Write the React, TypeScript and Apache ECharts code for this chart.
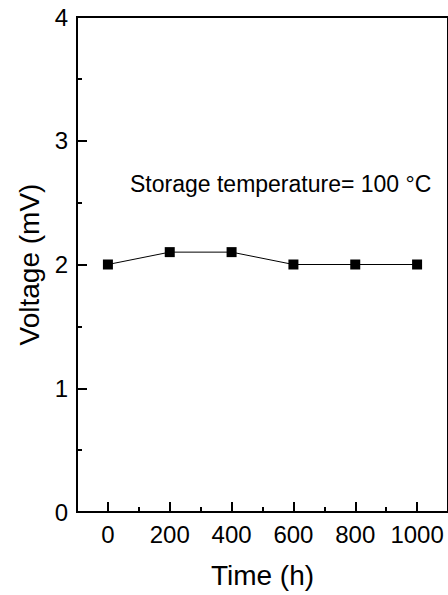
import React, { useEffect, useRef } from "react";
import * as echarts from "echarts";

const timeH = [0, 200, 400, 600, 800, 1000];
const voltage = [2.0, 2.1, 2.1, 2.0, 2.0, 2.0];
const xMajorTicks = [0, 200, 400, 600, 800, 1000];
const xMinorTicks = [100, 300, 500, 700, 900];
const annotation = "Storage temperature= 100 °C";

const FONT = 'Arial, "Liberation Sans", sans-serif';

export default function App() {
  const ref = useRef<HTMLDivElement>(null);
  useEffect(() => {
    document.body.style.margin = "0";
    const chart = echarts.init(ref.current!, null, { renderer: "svg" });
    chart.setOption({
      animation: false,
      backgroundColor: "#fff",
      grid: {
        left: 77,
        top: 17,
        width: 372,
        height: 495,
        show: true,
        borderColor: "#000",
        borderWidth: 2,
        containLabel: false,
      },
      xAxis: [
        {
          type: "value",
          min: -100,
          max: 1100,
          name: "Time (h)",
          nameLocation: "middle",
          nameGap: 49,
          nameTextStyle: { fontSize: 28, color: "#000", fontFamily: FONT },
          axisLine: { show: true, onZero: false, lineStyle: { color: "#000", width: 2 } },
          axisTick: {
            show: true,
            inside: true,
            length: 10,
            customValues: xMajorTicks,
            lineStyle: { color: "#000", width: 2 },
          },
          axisLabel: {
            customValues: xMajorTicks,
            formatter: (v: number) => String(v),
            fontSize: 24,
            color: "#000",
            fontFamily: FONT,
            margin: 10,
          },
          splitLine: { show: false },
        },
        {
          type: "value",
          min: -100,
          max: 1100,
          position: "bottom",
          axisLine: { show: false, onZero: false },
          axisTick: {
            show: true,
            inside: true,
            length: 5,
            customValues: xMinorTicks,
            lineStyle: { color: "#000", width: 2 },
          },
          axisLabel: { show: false },
          splitLine: { show: false },
        },
      ],
      yAxis: {
        type: "value",
        min: 0,
        max: 4,
        interval: 1,
        position: "left",
        name: "Voltage (mV)",
        nameLocation: "middle",
        nameGap: 30,
        nameTextStyle: { fontSize: 28, color: "#000", fontFamily: FONT },
        axisLine: { show: true, onZero: false, lineStyle: { color: "#000", width: 2 } },
        axisTick: { show: true, inside: true, length: 10, lineStyle: { color: "#000", width: 2 } },
        minorTick: { show: true, splitNumber: 2, length: 5, lineStyle: { color: "#000", width: 2 } },
        axisLabel: { fontSize: 24, color: "#000", fontFamily: FONT, margin: 9 },
        splitLine: { show: false },
      },
      graphic: [
        {
          type: "text",
          left: 130,
          top: 172,
          style: { text: annotation, fontSize: 23, fill: "#000", fontFamily: FONT },
        },
      ],
      series: [
        {
          type: "line",
          data: timeH.map((t, i) => [t, voltage[i]]),
          symbol: "rect",
          symbolSize: 10,
          itemStyle: { color: "#000" },
          lineStyle: { color: "#000", width: 1 },
        },
      ],
    });
    return () => chart.dispose();
  }, []);
  return <div ref={ref} style={{ width: 448, height: 595 }} />;
}
